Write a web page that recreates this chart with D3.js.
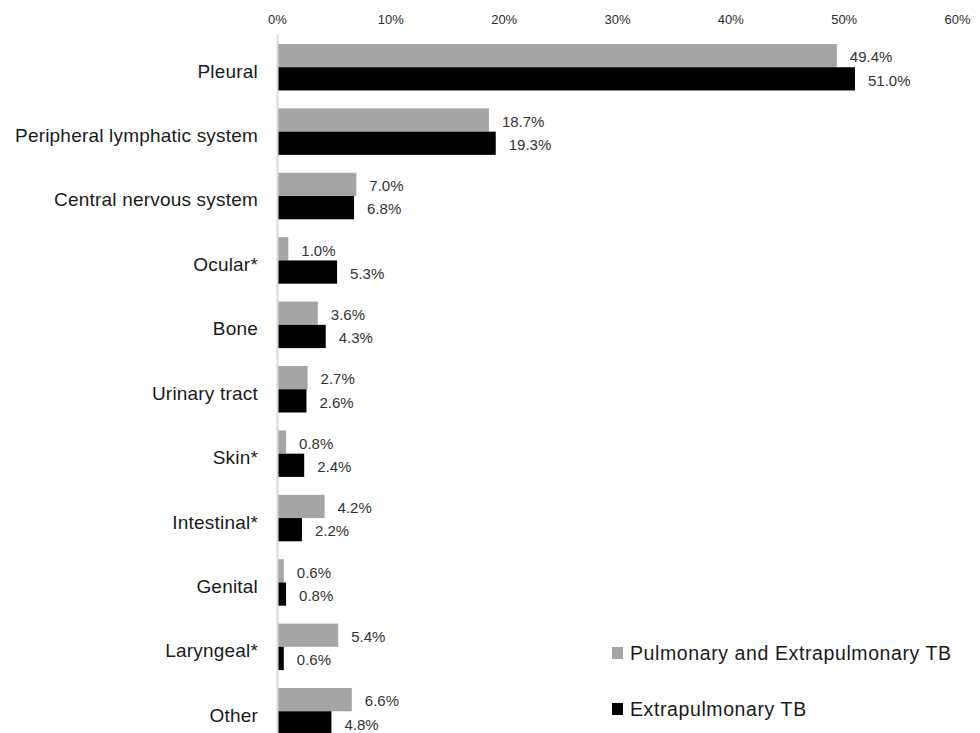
<!DOCTYPE html>
<html>
<head>
<meta charset="utf-8">
<script src="https://cdn.jsdelivr.net/npm/d3@7"></script>
<style>
  body { margin: 0; background: #fff; }
  svg { display: block; font-family: "Liberation Sans", Arial, sans-serif; }
  .x-axis text { font-family: "Liberation Sans", Arial, sans-serif; font-size: 13px; fill: #2a2a2a; }
  .y-axis text { font-family: "Liberation Sans", Arial, sans-serif; font-size: 19px; fill: #1a1a1a; letter-spacing: 0.2px; }
  .y-axis path { stroke: #d9d9d9; stroke-width: 2; }
  .val { font-size: 15px; fill: #333; }
  .legend text { font-size: 19.5px; fill: #1a1a1a; letter-spacing: 0.6px; }
</style>
</head>
<body>
<svg id="chart" width="980" height="733"></svg>
<script>
var categories = ["Pleural", "Peripheral lymphatic system", "Central nervous system", "Ocular*",
                  "Bone", "Urinary tract", "Skin*", "Intestinal*", "Genital", "Laryngeal*", "Other"];
var pulmExtra = [49.4, 18.7, 7.0, 1.0, 3.6, 2.7, 0.8, 4.2, 0.6, 5.4, 6.6];
var extraOnly = [51.0, 19.3, 6.8, 5.3, 4.3, 2.6, 2.4, 2.2, 0.8, 0.6, 4.8];
var seriesNames = ["Pulmonary and Extrapulmonary TB", "Extrapulmonary TB"];
var xTicks = [0, 10, 20, 30, 40, 50, 60];

var colors = ["#a5a5a5", "#000000"];
var svg = d3.select("#chart");

var x = d3.scaleLinear().domain([0, 60]).range([277, 957]);
var y = d3.scaleBand()
    .domain(categories)
    .range([34, 744.5])
    .paddingInner(0.278)
    .paddingOuter(0.155);
var sub = d3.scaleBand().domain([0, 1]).range([0, y.bandwidth()]);

var rows = categories.map(function(c, i){
  return {cat: c, vals: [pulmExtra[i], extraOnly[i]]};
});

// top axis
svg.append("g")
  .attr("class", "x-axis")
  .attr("transform", "translate(0,26)")
  .call(d3.axisTop(x).tickValues(xTicks).tickSize(0).tickFormat(function(d){ return d + "%"; }))
  .call(function(g){ g.select(".domain").remove(); })
  .selectAll("text").attr("dy", "0.35em").attr("y", -7);

// bars
var groups = svg.selectAll("g.row")
  .data(rows)
  .enter().append("g")
  .attr("class", "row")
  .attr("transform", function(d){ return "translate(0," + y(d.cat) + ")"; });

groups.selectAll("rect")
  .data(function(d){ return d.vals; })
  .enter().append("rect")
  .attr("x", x(0))
  .attr("y", function(d, i){ return sub(i); })
  .attr("width", function(d){ return x(d) - x(0); })
  .attr("height", sub.bandwidth())
  .attr("fill", function(d, i){ return colors[i]; });

groups.selectAll("text.val")
  .data(function(d){ return d.vals; })
  .enter().append("text")
  .attr("class", "val")
  .attr("x", function(d){ return x(d) + 13; })
  .attr("y", function(d, i){ return sub(i) + sub.bandwidth() / 2 + 1.5; })
  .attr("dy", "0.35em")
  .text(function(d){ return d.toFixed(1) + "%"; });

// left axis (vertical line + category labels)
svg.append("g")
  .attr("class", "y-axis")
  .attr("transform", "translate(" + x(0) + ",0)")
  .call(d3.axisLeft(y).tickSize(0).tickPadding(19))
  .selectAll("text").attr("dy", "0.55em");

// legend
var legend = svg.append("g").attr("class", "legend");
var legendY = [653, 709];
seriesNames.forEach(function(name, i){
  legend.append("rect")
    .attr("x", 612).attr("y", legendY[i] - 6)
    .attr("width", 11).attr("height", 12)
    .attr("fill", colors[i]);
  legend.append("text")
    .attr("x", 630).attr("y", legendY[i])
    .attr("dy", "0.35em")
    .text(name);
});
</script>
</body>
</html>
